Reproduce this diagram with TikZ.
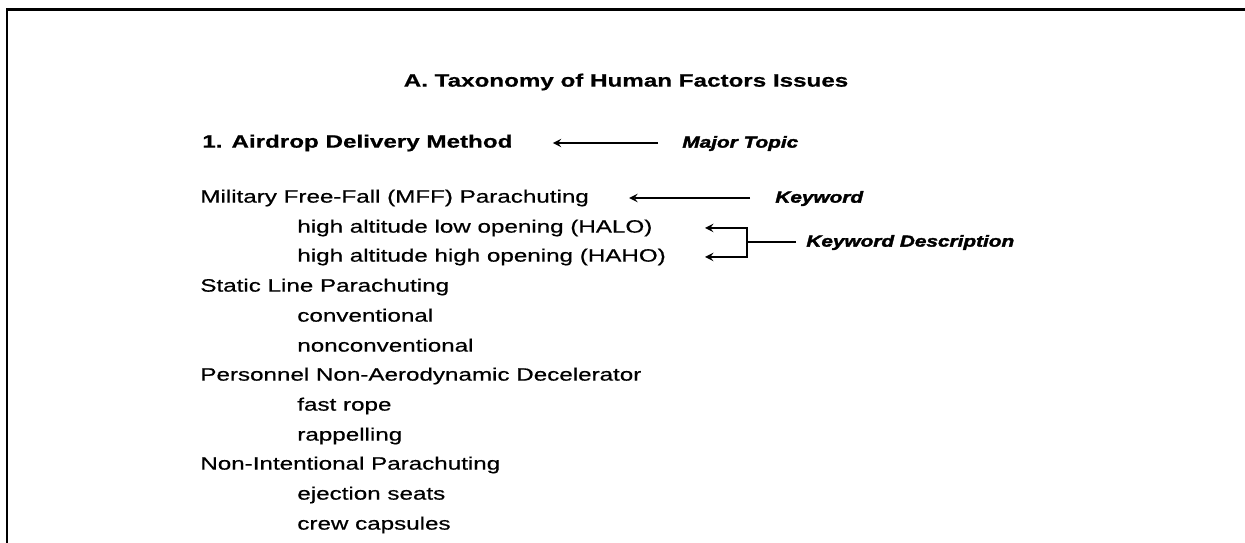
\documentclass[tikz,border=0pt]{standalone}
\usepackage{fontspec}
\setmainfont{Liberation Sans}[FakeStretch=1.35, FakeBold=0.6]
\newfontfamily\tagfont{Liberation Sans}[FakeStretch=1.3, FakeBold=2.2]
\usetikzlibrary{arrows}
\tikzstyle{entry} = [anchor=mid west, inner sep=0pt, font=\fontsize{10.2}{12}\selectfont]
\tikzstyle{heading} = [entry, font=\fontsize{10.2}{12}\selectfont\bfseries]
\tikzstyle{tag} = [entry, font=\tagfont\fontsize{9.1}{11}\selectfont\bfseries\itshape]
\tikzstyle{arrow} = [line width=1.1pt,->,>=stealth]
\tikzstyle{line} = [line width=1.1pt,-]
\tikzstyle{frame} = [line width=1.6pt]

\begin{document}
\begin{tikzpicture}[x=0.02cm, y=-0.02cm]
  \useasboundingbox (0,0) rectangle (1245,543);
  \draw[frame] (7,543) -- (7,9.5) -- (1245,9.5);
  \node (title) at (626,82) [heading, anchor=mid] {A. Taxonomy of Human Factors Issues};
  \node (airdrop) at (202,143) [heading] {1. Airdrop Delivery Method};
  \node (major) at (682,143) [tag] {Major Topic};
  % keywords and their descriptions
  \node (mff) at (200,198) [entry] {Military Free-Fall (MFF) Parachuting};
  \node (halo) at (297,228) [entry] {high altitude low opening (HALO)};
  \node (haho) at (297,257) [entry] {high altitude high opening (HAHO)};
  \node (static) at (200,287) [entry] {Static Line Parachuting};
  \node (conv) at (297,317) [entry] {conventional};
  \node (nonconv) at (297,347) [entry] {nonconventional};
  \node (pnad) at (200,376) [entry] {Personnel Non-Aerodynamic Decelerator};
  \node (rope) at (297,406) [entry] {fast rope};
  \node (rappel) at (297,436) [entry] {rappelling};
  \node (nonint) at (200,465) [entry] {Non-Intentional Parachuting};
  \node (eject) at (297,495) [entry] {ejection seats};
  \node (crew) at (297,525) [entry] {crew capsules};
  \node (keyword) at (775,198) [tag] {Keyword};
  \node (kwdesc) at (806,242) [tag] {Keyword Description};
  % pointers
  \draw[arrow, shorten >=0.8cm, shorten <=0.48cm] (major.mid west) -- (airdrop.mid east);
  \draw[arrow, shorten >=0.8cm, shorten <=0.5cm] (keyword.mid west) -- (mff.mid east);
  \coordinate (fork) at (747,242);
  \coordinate (tipx) at (705,0);
  \draw[line, shorten <=0.2cm] (kwdesc.mid west) -- (fork);
  \draw[arrow] (fork) |- (halo.mid east -| tipx);
  \draw[arrow] (fork) |- (haho.mid east -| tipx);
\end{tikzpicture}
\end{document}
